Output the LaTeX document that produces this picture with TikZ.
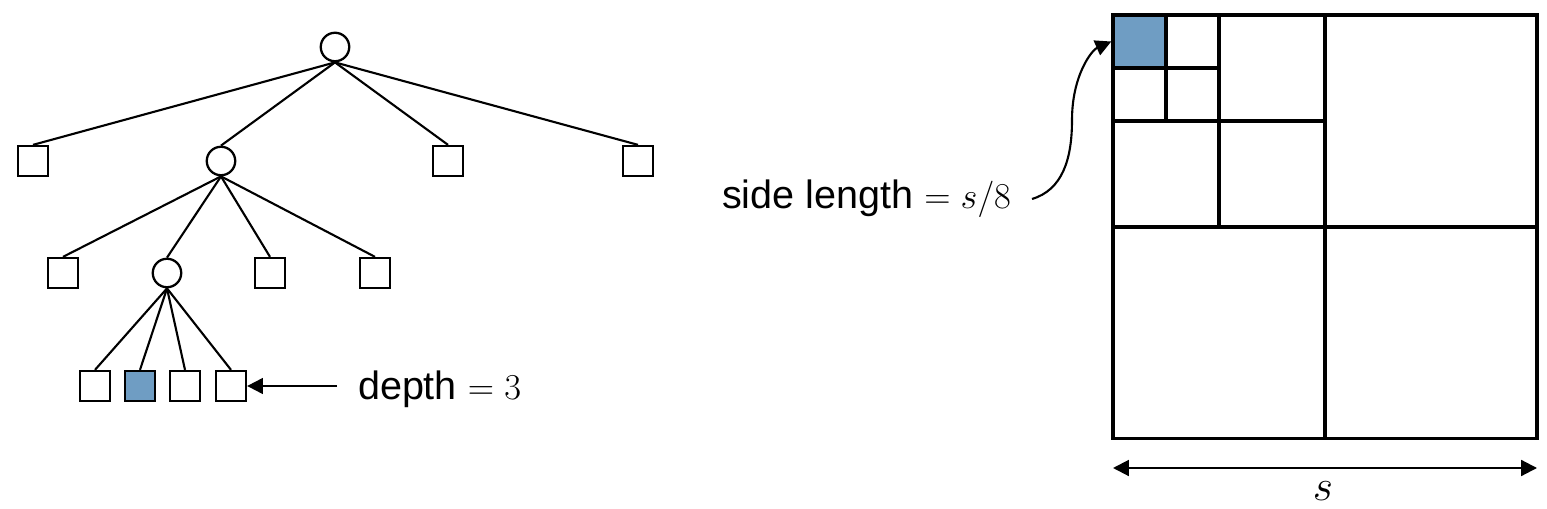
\documentclass[tikz,border=0pt]{standalone}
\usepackage{fontspec}
\setmainfont{Liberation Sans}
\usetikzlibrary{arrows.meta}
\definecolor{cellblue}{RGB}{111,157,195}
\tikzstyle{inner}=[shape=circle,
                draw=black,
                line width=1.3pt,
                minimum size=0.57cm,
                inner sep=0pt]
\tikzstyle{leaf}=[shape=rectangle,
                draw=black,
                line width=1.3pt,
                minimum size=0.6cm,
                inner sep=0pt]
\tikzstyle{cell}=[shape=rectangle,
                draw=black,
                line width=2pt,
                inner sep=0pt]
\tikzstyle{lbl}=[font=\fontsize{22.5}{27}\selectfont,
                inner xsep=0.4cm,
                inner ysep=0pt]

\begin{document}
\begin{tikzpicture}[x=0.02cm,y=-0.02cm,>={Triangle[length=9pt,width=9pt]},line width=1.2pt]
\useasboundingbox (0,0) rectangle (1547,509);

% tree nodes
\node[inner] (root) at (335,47) {};
\node[leaf] (a1) at (33,161) {};
\node[inner] (b) at (221,161) {};
\node[leaf] (a3) at (448,161) {};
\node[leaf] (a4) at (638,161) {};
\node[leaf] (c1) at (63,273) {};
\node[inner] (d) at (167,273) {};
\node[leaf] (c3) at (270,273) {};
\node[leaf] (c4) at (375,273) {};
\node[leaf] (l1) at (95,386) {};
\node[leaf,fill=cellblue] (l2) at (140,386) {};
\node[leaf] (l3) at (185,386) {};
\node[leaf] (l4) at (231,386) {};

% tree edges
\draw (root.south) -- (a1.north);
\draw (root.south) -- (b.north);
\draw (root.south) -- (a3.north);
\draw (root.south) -- (a4.north);
\draw (b.south) -- (c1.north);
\draw (b.south) -- (d.north);
\draw (b.south) -- (c3.north);
\draw (b.south) -- (c4.north);
\draw (d.south) -- (l1.north);
\draw (d.south) -- (l2.north);
\draw (d.south) -- (l3.north);
\draw (d.south) -- (l4.north);

% depth label
\node[lbl,anchor=west] (depth) at (337,389) {depth $=3$};
\draw[->] (l4.east -| depth.west) -- (l4.east);

% quadtree cells
\node[cell,minimum size=8.48cm] (qt) at (1325,226.5) {};
\node[cell,minimum size=4.24cm] (h1) at (1431,121) {};
\node[cell,minimum size=4.24cm] (h2) at (1219,332.5) {};
\node[cell,minimum size=4.24cm] (h3) at (1431,332.5) {};
\node[cell,minimum size=2.12cm] (q1) at (1272,68) {};
\node[cell,minimum size=2.12cm] (q2) at (1166,174) {};
\node[cell,minimum size=2.12cm] (q3) at (1272,174) {};
\node[cell,minimum size=1.06cm,fill=cellblue] (blue) at (1139.5,41.5) {};
\node[cell,minimum size=1.06cm] (e2) at (1192.5,41.5) {};
\node[cell,minimum size=1.06cm] (e3) at (1139.5,94.5) {};
\node[cell,minimum size=1.06cm] (e4) at (1192.5,94.5) {};

% side length label
\node[lbl,anchor=east] (side) at (1032,199) {side length $=s/8$};
\draw[->] (side.east) .. controls (1062,190) and (1072,160) .. (1072,120)
    .. controls (1072,75) and (1092,50) .. (blue.west);

% size arrow
\coordinate (sl) at (1113,468);
\coordinate (sr) at (1537,468);
\draw[<->] (sl) -- (sr);
\node[inner sep=0pt,font=\fontsize{25}{30}\selectfont] (slen) at (1323,491) {$s$};

\end{tikzpicture}
\end{document}
